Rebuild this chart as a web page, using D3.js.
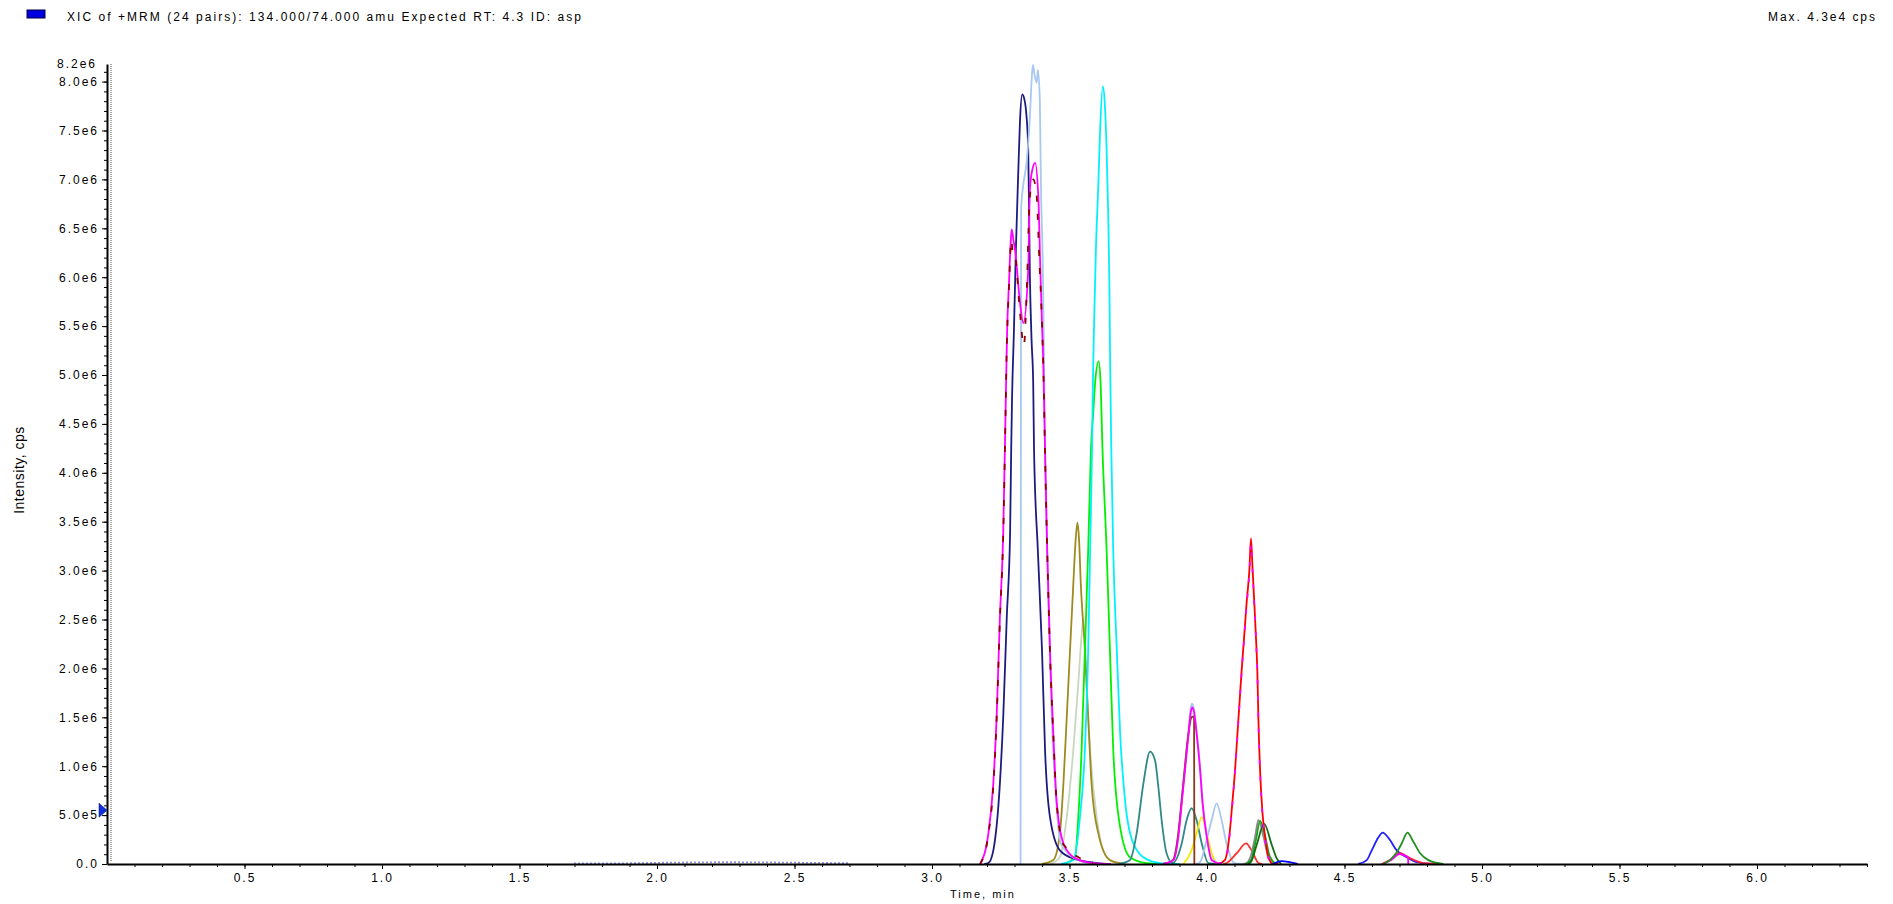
<!DOCTYPE html>
<html>
<head>
<meta charset="utf-8">
<script src="https://cdn.jsdelivr.net/npm/d3@7"></script>
<style>
  body { margin: 0; background: #fff; }
  text { font-family: "Liberation Sans", Arial, sans-serif; }
</style>
</head>
<body>
<script>
// Tick labels
var xTickValues = [0.5, 1.0, 1.5, 2.0, 2.5, 3.0, 3.5, 4.0, 4.5, 5.0, 5.5, 6.0];
var xTickLabels = ["0.5", "1.0", "1.5", "2.0", "2.5", "3.0", "3.5", "4.0", "4.5", "5.0", "5.5", "6.0"];
var yTickValues = [0, 0.5, 1, 1.5, 2, 2.5, 3, 3.5, 4, 4.5, 5, 5.5, 6, 6.5, 7, 7.5, 8];
var yTickLabels = ["0.0", "5.0e5", "1.0e6", "1.5e6", "2.0e6", "2.5e6", "3.0e6", "3.5e6", "4.0e6",
  "4.5e6", "5.0e6", "5.5e6", "6.0e6", "6.5e6", "7.0e6", "7.5e6", "8.0e6"];

// Traces: [time (min), intensity (1e6 cps)]
var noiseTrace = [[1.70, 0.005], [1.92, 0.008], [2.00, 0.012], [2.10, 0.015], [2.25, 0.018], [2.40, 0.016], [2.55, 0.012], [2.70, 0.008]];
var navyTrace = [[3.19, 0], [3.205, 0.01], [3.223, 0.14], [3.247, 0.83], [3.259, 1.5], [3.272, 2.53], [3.284, 3.39], [3.288, 4.24],
  [3.291, 4.75], [3.298, 5.46], [3.305, 6.28], [3.314, 7.1], [3.32, 7.6], [3.328, 7.87], [3.334, 7.84], [3.342, 7.7], [3.35, 7.3],
  [3.356, 6.0], [3.362, 5.36], [3.368, 4.92], [3.371, 4.24], [3.385, 3.2], [3.4, 2.19], [3.411, 1.17], [3.429, 0.48], [3.465, 0.14],
  [3.52, 0.05], [3.6, 0.01], [3.65, 0]];
var lightBlueTrace = [[3.322, 0], [3.324, 6.7], [3.33, 6.9], [3.345, 7.2], [3.356, 7.64], [3.363, 8.05], [3.367, 8.17], [3.374, 8.05],
  [3.381, 7.99], [3.385, 8.12], [3.392, 7.82], [3.396, 6.96], [3.403, 6.1], [3.407, 5.26], [3.411, 4.24], [3.42, 3.0], [3.434, 1.6],
  [3.45, 0.7], [3.47, 0.2], [3.54, 0.03], [3.6, 0]];
var magentaTrace = [[3.175, 0], [3.205, 0.31], [3.223, 0.83], [3.235, 1.5], [3.247, 2.53], [3.259, 3.39], [3.265, 4.24], [3.27, 5.0],
  [3.273, 5.43], [3.28, 5.94], [3.286, 6.35], [3.29, 6.49], [3.296, 6.38], [3.302, 6.28], [3.32, 5.74], [3.332, 5.53], [3.35, 6.08],
  [3.356, 6.9], [3.365, 7.1], [3.375, 7.17], [3.387, 6.8], [3.393, 6.18], [3.399, 5.6], [3.405, 5.08], [3.411, 4.24], [3.419, 3.21],
  [3.429, 2.19], [3.441, 1.34], [3.453, 0.65], [3.478, 0.21], [3.52, 0.06], [3.585, 0.01], [3.65, 0]];
var maroonTrace = [[3.175, 0], [3.205, 0.3], [3.223, 0.8], [3.235, 1.48], [3.247, 2.5], [3.259, 3.36], [3.265, 4.2], [3.272, 5.3],
  [3.28, 5.9], [3.288, 6.38], [3.296, 6.2], [3.302, 6.2], [3.318, 5.7], [3.334, 5.3], [3.345, 5.9], [3.355, 6.8], [3.368, 7.0],
  [3.38, 6.85], [3.39, 6.2], [3.399, 5.6], [3.405, 5.05], [3.411, 4.2], [3.419, 3.2], [3.429, 2.17], [3.441, 1.33], [3.453, 0.64],
  [3.478, 0.2], [3.585, 0.01]];
var oliveTrace = [[3.40, 0], [3.441, 0.04], [3.465, 0.31], [3.478, 0.83], [3.49, 1.5], [3.502, 2.19], [3.514, 2.87], [3.522, 3.3],
  [3.529, 3.49], [3.535, 3.3], [3.541, 2.87], [3.556, 2.19], [3.568, 1.5], [3.58, 0.83], [3.605, 0.31], [3.647, 0.04], [3.7, 0]];
var paleGreenTrace = [[3.43, 0], [3.465, 0.07], [3.49, 0.48], [3.514, 1.17], [3.532, 1.85], [3.543, 2.3], [3.55, 2.5], [3.556, 2.3],
  [3.562, 1.85], [3.575, 1.17], [3.599, 0.48], [3.635, 0.07], [3.68, 0]];
var limeTrace = [[3.48, 0], [3.52, 0.07], [3.532, 0.48], [3.544, 1.17], [3.556, 2.19], [3.568, 3.21], [3.578, 4.24], [3.586, 4.6],
  [3.594, 4.95], [3.606, 5.14], [3.613, 4.92], [3.62, 4.24], [3.635, 3.21], [3.647, 2.19], [3.659, 1.17], [3.684, 0.38], [3.72, 0.07],
  [3.78, 0.01], [3.85, 0]];
var cyanTrace = [[3.47, 0], [3.514, 0.04], [3.538, 0.48], [3.556, 1.17], [3.568, 2.19], [3.575, 3.21], [3.582, 4.24], [3.585, 4.92],
  [3.59, 5.6], [3.596, 6.28], [3.605, 6.96], [3.611, 7.48], [3.621, 7.95], [3.629, 7.74], [3.635, 7.3], [3.641, 6.62], [3.645, 5.94],
  [3.648, 5.08], [3.652, 4.24], [3.659, 3.21], [3.672, 2.19], [3.684, 1.34], [3.702, 0.65], [3.732, 0.21], [3.78, 0.05], [3.83, 0.01],
  [3.9, 0]];
var tealTrace = [[3.68, 0], [3.72, 0.04], [3.744, 0.31], [3.769, 0.83], [3.793, 1.15], [3.811, 1.06], [3.823, 0.79], [3.835, 0.45],
  [3.853, 0.11], [3.875, 0.01], [3.908, 0.21], [3.926, 0.45], [3.944, 0.57], [3.962, 0.45], [3.981, 0.21], [4.005, 0.01], [4.05, 0]];
var magenta2Trace = [[3.84, 0], [3.878, 0.04], [3.896, 0.28], [3.908, 0.62], [3.92, 0.96], [3.932, 1.3], [3.941, 1.55], [3.947, 1.6],
  [3.953, 1.55], [3.962, 1.34], [3.975, 0.96], [3.984, 0.62], [3.999, 0.28], [4.017, 0.04], [4.05, 0]];
var lightBlue2Trace = [[3.84, 0], [3.878, 0.05], [3.896, 0.3], [3.908, 0.65], [3.92, 1.0], [3.932, 1.35], [3.941, 1.6], [3.946, 1.64],
  [3.953, 1.58], [3.962, 1.36], [3.975, 0.98], [3.984, 0.63], [3.999, 0.29], [4.017, 0.05], [4.05, 0]];
var maroon2Trace = [[3.84, 0], [3.876, 0.04], [3.894, 0.28], [3.906, 0.6], [3.918, 0.95], [3.93, 1.28], [3.944, 1.5], [3.953, 1.51],
  [3.954, 0]];
var yellowTrace = [[3.914, 0], [3.944, 0.14], [3.962, 0.31], [3.981, 0.48], [3.999, 0.31], [4.017, 0.11], [4.035, 0]];
var lightBlue3Trace = [[3.96, 0], [3.975, 0.02], [3.999, 0.25], [4.017, 0.45], [4.035, 0.62], [4.053, 0.45], [4.071, 0.21],
  [4.1, 0.01], [4.13, 0]];
var redSmallTrace = [[4.06, 0], [4.071, 0.01], [4.108, 0.11], [4.142, 0.21], [4.162, 0.14], [4.187, 0.01], [4.2, 0]];
var greyTrace = [[4.13, 0], [4.144, 0.01], [4.162, 0.11], [4.175, 0.28], [4.187, 0.45], [4.205, 0.28], [4.223, 0.07], [4.241, 0]];
var greenTrace = [[4.14, 0], [4.16, 0.04], [4.178, 0.25], [4.193, 0.44], [4.21, 0.3], [4.228, 0.08], [4.25, 0]];
var darkGreenTrace = [[4.15, 0], [4.162, 0.03], [4.181, 0.2], [4.208, 0.41], [4.235, 0.2], [4.253, 0.06], [4.27, 0]];
var redTrace = [[4.04, 0], [4.065, 0.04], [4.081, 0.28], [4.092, 0.62], [4.102, 0.96], [4.11, 1.3], [4.118, 1.64], [4.126, 1.98],
  [4.135, 2.32], [4.144, 2.67], [4.154, 3.0], [4.16, 3.33], [4.166, 3.0], [4.172, 2.67], [4.178, 2.32], [4.183, 1.98], [4.187, 1.47],
  [4.193, 0.96], [4.201, 0.55], [4.211, 0.28], [4.223, 0.07], [4.241, 0], [4.26, 0]];
var magenta3Trace = [[4.04, 0], [4.065, 0.03], [4.081, 0.26], [4.092, 0.6], [4.102, 0.94], [4.11, 1.28], [4.118, 1.62], [4.126, 1.96],
  [4.135, 2.3], [4.144, 2.64], [4.154, 2.97], [4.16, 3.28], [4.166, 2.97], [4.172, 2.64], [4.178, 2.3], [4.183, 1.96], [4.187, 1.45],
  [4.193, 0.94], [4.201, 0.53], [4.211, 0.26], [4.223, 0.06], [4.241, 0]];
var blueTinyTrace = [[4.24, 0], [4.27, 0.03], [4.30, 0.02], [4.33, 0]];
var blueTrace = [[4.55, 0], [4.581, 0.04], [4.599, 0.14], [4.623, 0.27], [4.639, 0.32], [4.659, 0.27], [4.69, 0.14], [4.726, 0.07],
  [4.762, 0.02], [4.823, 0]];
var redLateTrace = [[4.635, 0], [4.665, 0.04], [4.702, 0.11], [4.738, 0.06], [4.787, 0.01], [4.859, 0]];
var magentaLateTrace = [[4.64, 0], [4.67, 0.04], [4.70, 0.1], [4.731, 0.07], [4.732, 0]];
var greenLateTrace = [[4.641, 0], [4.665, 0.04], [4.69, 0.12], [4.708, 0.21], [4.729, 0.32], [4.75, 0.23], [4.775, 0.11],
  [4.805, 0.04], [4.859, 0]];

// Ordem de desenho (de baixo para cima)
var traces = [
  {data: noiseTrace, color: "#2020c0", dash: "1,3"},
  {data: paleGreenTrace, color: "#c8d8c0"},
  {data: oliveTrace, color: "#a08a20"},
  {data: limeTrace, color: "#00f000"},
  {data: cyanTrace, color: "#00f0ff"},
  {data: tealTrace, color: "#308888"},
  {data: navyTrace, color: "#1c1c80"},
  {data: lightBlueTrace, color: "#a8c8f0"},
  {data: magentaTrace, color: "#ff00ff"},
  {data: maroonTrace, color: "#900000", dash: "6,12"},
  {data: yellowTrace, color: "#f8e800"},
  {data: lightBlue3Trace, color: "#a8c8f0"},
  {data: lightBlue2Trace, color: "#a8c8f0"},
  {data: maroon2Trace, color: "#8b3a1a"},
  {data: magenta2Trace, color: "#ff00ff"},
  {data: redSmallTrace, color: "#ff3030"},
  {data: greyTrace, color: "#8c8c8c"},
  {data: greenTrace, color: "#20a020"},
  {data: darkGreenTrace, color: "#107010"},
  {data: redTrace, color: "#ff0000"},
  {data: magenta3Trace, color: "#ff00ff", dash: "4,12"},
  {data: blueTinyTrace, color: "#0000ff"},
  {data: blueTrace, color: "#2020ff"},
  {data: redLateTrace, color: "#ff2040"},
  {data: magentaLateTrace, color: "#ff00ff"},
  {data: greenLateTrace, color: "#209020"}
];

var W = 1893, H = 904;
var xScale = d3.scaleLinear().domain([0, 6.4]).range([107, 1867]);
var yScale = d3.scaleLinear().domain([0, 8.18]).range([864, 64]);

var svg = d3.select("body").append("svg")
  .attr("width", W)
  .attr("height", H);

// Cabecalho
svg.append("rect")
  .attr("x", 27).attr("y", 10).attr("width", 18).attr("height", 8)
  .attr("fill", "#0000e0").attr("stroke", "#000040").attr("stroke-width", 1);
svg.append("text")
  .attr("x", 67).attr("y", 21)
  .attr("font-size", "12px")
  .attr("textLength", 514).attr("lengthAdjust", "spacing")
  .text("XIC of +MRM (24 pairs): 134.000/74.000 amu Expected RT: 4.3 ID: asp");
svg.append("text")
  .attr("x", 1768).attr("y", 21)
  .attr("font-size", "12px")
  .attr("textLength", 107).attr("lengthAdjust", "spacing")
  .text("Max. 4.3e4 cps");

// Linha pontilhada junto ao eixo Y
svg.append("line")
  .attr("x1", 111).attr("x2", 111)
  .attr("y1", yScale.range()[1]).attr("y2", yScale(0) - 3)
  .attr("stroke", "#555").attr("stroke-width", 1)
  .attr("stroke-dasharray", "1,1");

// Curvas
var line = d3.line()
  .x(function(d) { return xScale(d[0]); })
  .y(function(d) { return yScale(d[1]); })
  .curve(d3.curveMonotoneX);

svg.append("g").selectAll("path")
  .data(traces)
  .enter().append("path")
  .attr("d", function(d) { return line(d.data); })
  .attr("fill", "none")
  .attr("stroke", function(d) { return d.color; })
  .attr("stroke-width", 1.8)
  .attr("stroke-dasharray", function(d) { return d.dash || null; });

// Eixo X
var xMinor = svg.append("g")
  .attr("transform", "translate(0," + yScale(0) + ")")
  .call(d3.axisBottom(xScale).tickValues(d3.range(0.1, 6.45, 0.1)).tickSize(3).tickFormat("").tickSizeOuter(0));
xMinor.select(".domain").remove();

var xAxis = svg.append("g")
  .attr("transform", "translate(0," + yScale(0) + ")")
  .call(d3.axisBottom(xScale)
    .tickValues(xTickValues)
    .tickSize(5)
    .tickPadding(4)
    .tickSizeOuter(0)
    .tickFormat(function(d, i) { return xTickLabels[i]; }));
xAxis.select(".domain").attr("stroke-width", 2);
xAxis.selectAll("text")
  .attr("font-size", "12px")
  .attr("letter-spacing", "2px")
  .attr("font-family", "Liberation Sans, Arial, sans-serif")
  .attr("fill", "#000");

// Eixo Y
var yMinor = svg.append("g")
  .attr("transform", "translate(" + xScale(0) + ",0)")
  .call(d3.axisLeft(yScale).tickValues(d3.range(0.1, 8.15, 0.1)).tickSize(3).tickFormat("").tickSizeOuter(0));
yMinor.select(".domain").remove();

var yAxis = svg.append("g")
  .attr("transform", "translate(" + xScale(0) + ",0)")
  .call(d3.axisLeft(yScale)
    .tickValues(yTickValues)
    .tickSize(5)
    .tickPadding(3)
    .tickSizeOuter(0)
    .tickFormat(function(d, i) { return yTickLabels[i]; }));
yAxis.select(".domain").attr("stroke-width", 2);
yAxis.selectAll("text")
  .attr("font-size", "12px")
  .attr("letter-spacing", "2px")
  .attr("font-family", "Liberation Sans, Arial, sans-serif")
  .attr("fill", "#000");

// Rotulo no topo do eixo Y
svg.append("text")
  .attr("x", 97).attr("y", yScale(8.18) + 4)
  .attr("text-anchor", "end")
  .attr("font-size", "12px")
  .attr("letter-spacing", "2px")
  .text("8.2e6");

// Marcador azul no eixo Y
var markValue = 0.55;
svg.append("path")
  .attr("d", "M" + (xScale(0) - 8) + "," + (yScale(markValue) - 7) + "L" + xScale(0) + "," + yScale(markValue) +
    "L" + (xScale(0) - 8) + "," + (yScale(markValue) + 7) + "Z")
  .attr("fill", "#1030e0").attr("stroke", "#000060").attr("stroke-width", 0.5);

// Titulos dos eixos
svg.append("text")
  .attr("x", 983).attr("y", 898)
  .attr("text-anchor", "middle")
  .attr("font-size", "11px")
  .attr("letter-spacing", "2px")
  .text("Time, min");

svg.append("text")
  .attr("transform", "translate(24,470) rotate(-90)")
  .attr("text-anchor", "middle")
  .attr("font-size", "14px")
  .attr("letter-spacing", "0.5px")
  .text("Intensity, cps");
</script>
</body>
</html>
